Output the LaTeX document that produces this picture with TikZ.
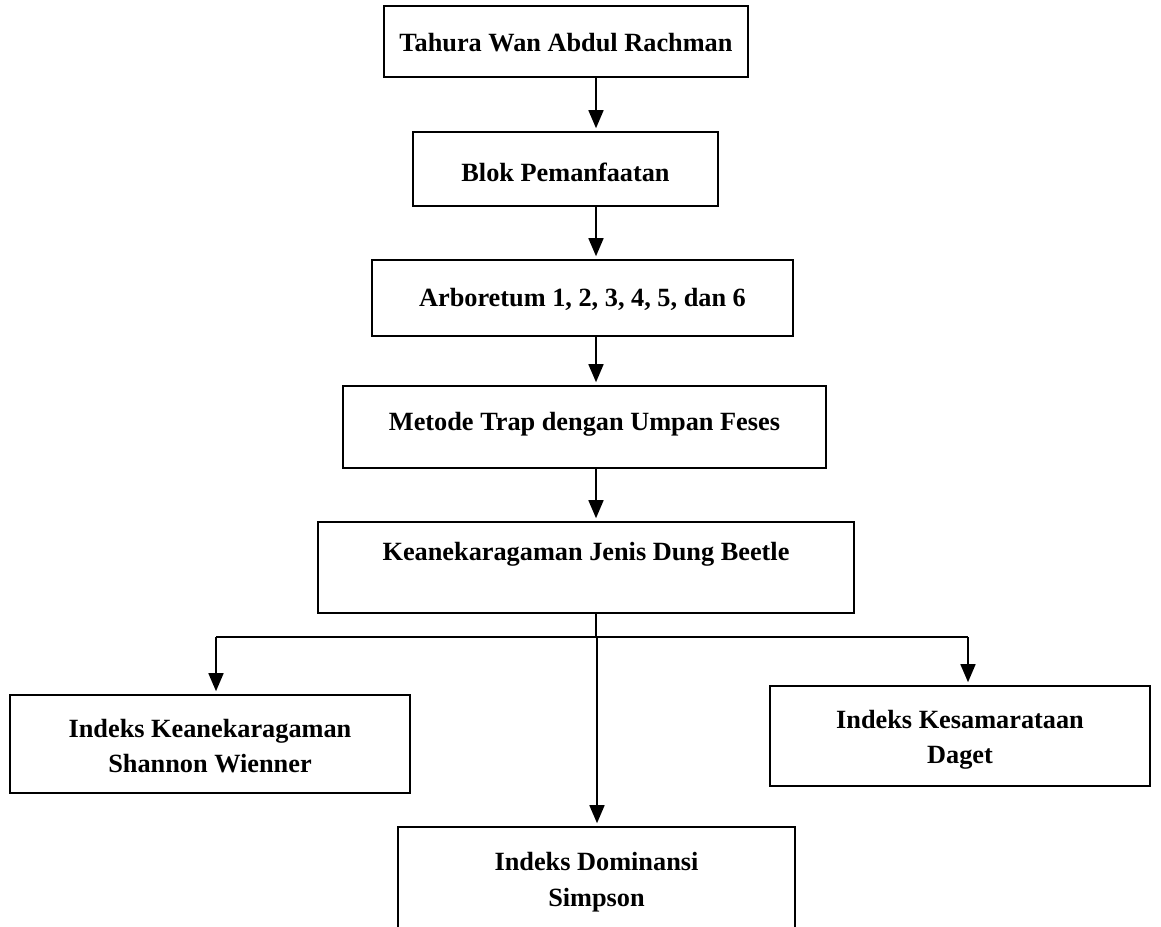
\documentclass[tikz,border=0pt]{standalone}
\usepackage{fontspec}
\setmainfont{Liberation Serif}
\usetikzlibrary{arrows.meta}
\tikzset{
  box/.style={draw=black, line width=1.6pt, rectangle, inner sep=0pt},
  txt/.style={inner sep=0pt, align=center, font=\bfseries\fontsize{26.3}{35.5}\selectfont},
  arr/.style={line width=1.6pt, -{Triangle[length=18pt,width=15pt]}, shorten >=3pt},
  ln/.style={line width=1.4pt}
}
\begin{document}
\begin{tikzpicture}[x=1pt,y=-1pt]
\useasboundingbox (0,0) rectangle (1161,926);
\fill[white] (0,0) rectangle (1161,926);
\coordinate (spine) at (596,0);
\node[box, minimum width=364pt, minimum height=71pt] (b1) at (566,41.5) {};
\node[txt] (t1) at (566,43) {Tahura Wan Abdul Rachman};
\node[box, minimum width=305pt, minimum height=74pt] (b2) at (565.5,169) {};
\node[txt] (t2) at (565.5,172) {Blok Pemanfaatan};
\node[box, minimum width=421pt, minimum height=76pt] (b3) at (582.5,298) {};
\node[txt] (t3) at (582.5,299) {Arboretum 1, 2, 3, 4, 5, dan 6};
\node[box, minimum width=483pt, minimum height=82pt] (b4) at (584.5,427) {};
\node[txt] (t4) at (584.5,424) {Metode Trap dengan Umpan Feses};
\node[box, minimum width=536pt, minimum height=91pt] (b5) at (586,567.5) {};
\node[txt] (t5) at (586,554) {Keanekaragaman Jenis Dung Beetle};
\node[box, minimum width=400pt, minimum height=98pt] (bl) at (210,744) {};
\node[txt] (tl) at (210,746) {Indeks Keanekaragaman\\Shannon Wienner};
\node[box, minimum width=380pt, minimum height=100pt] (br) at (960,736) {};
\node[txt] (tr) at (960,740) {Indeks Kesamarataan\\Daget};
\node[box, minimum width=397pt, minimum height=108pt] (bm) at (596.5,881) {};
\node[txt] (tm) at (596.5,882) {Indeks Dominansi\\Simpson};
\coordinate (hl) at (216,637);
\coordinate (hr) at (968,637);
\coordinate (hm) at (597,637);
\draw[arr] (b1.south -| spine) -- (b2.north -| spine);
\draw[arr] (b2.south -| spine) -- (b3.north -| spine);
\draw[arr] (b3.south -| spine) -- (b4.north -| spine);
\draw[arr] (b4.south -| spine) -- (b5.north -| spine);
\draw[ln] (b5.south -| spine) -- (hl -| spine);
\draw[ln] (hl) -- (hr);
\draw[arr] (hl) -- (bl.north -| hl);
\draw[arr] (hr) -- (br.north -| hr);
\draw[arr] (hm) -- (bm.north -| hm);
\end{tikzpicture}
\end{document}
